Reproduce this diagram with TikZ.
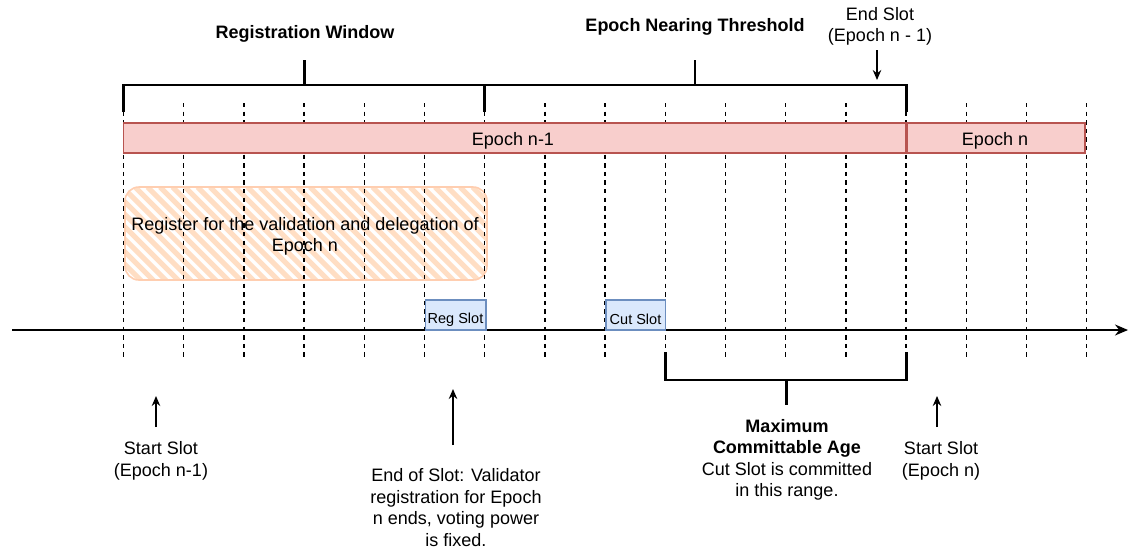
\documentclass[tikz,border=0pt]{standalone}
\usepackage{fontspec}
\setmainfont{Liberation Sans}
\usepackage{xcolor}
\definecolor{epochfill}{RGB}{248, 206, 204}
\definecolor{epochline}{RGB}{184, 84, 80}
\definecolor{slotfill}{RGB}{218, 232, 252}
\definecolor{slotline}{RGB}{108, 142, 191}
\definecolor{hatchfill}{RGB}{255, 222, 196}
\definecolor{hatchline}{RGB}{255, 206, 176}
\usetikzlibrary{arrows.meta}

\begin{document}
\begin{tikzpicture}[x=1pt, y=-1pt,
    txt/.style={font=\fontsize{18}{21.5}\selectfont, align=center, inner sep=0pt, yshift=-1.5pt},
    bold/.style={txt, font=\fontsize{18}{21.5}\selectfont\bfseries},
    gridline/.style={line width=1.4pt, dash pattern=on 4.3pt off 4.3pt},
    bracket/.style={line width=2.9pt},
    pointer/.style={line width=1.4pt, -{Stealth[length=10pt, width=8.5pt]}},
    epoch/.style={fill=epochfill, draw=epochline, line width=1.5pt},
    slotbox/.style={fill=slotfill, draw=slotline, line width=1.4pt}]
    \useasboundingbox (0,0) rectangle (1140,558);

    % Registration area (hatched)
    \begin{scope}
        \clip[rounded corners=14] (125,187) rectangle (487,280);
        \foreach \k in {0,...,40}
            \draw[hatchfill, line width=5pt] (10+12.5*\k,187) -- ++(100,100);
    \end{scope}
    \draw[hatchline, line width=1.6pt, rounded corners=14] (125,187) rectangle (487,280);

    % Slot boundaries
    \foreach \i in {0,...,16}
        \draw[gridline] (123.5+60.2*\i,103) -- (123.5+60.2*\i,360);

    \node[txt] (regtext) at (305,235) {Register for the validation and delegation of\\Epoch n};

    % Epoch bars
    \draw[epoch] (123.5,123) rectangle (906.5,153);
    \draw[epoch] (906.5,123) rectangle (1085,153);
    \draw[epochline, line width=3pt] (906.5,123) -- (906.5,153);
    \node[txt] (epochprev) at (513,139) {Epoch n-1};
    \node[txt] (epochnext) at (995,139) {Epoch n};

    % Top brackets
    \draw[bracket] (123.5,112) -- (123.5,85) -- (484.7,85) -- (484.7,112);
    \draw[bracket] (304.5,85) -- (304.5,60);
    \draw[bracket] (484.7,85) -- (906.1,85) -- (906.1,112);
    \draw[bracket] (695,85) -- (695,60);
    \node[bold] (regwindow) at (305,32) {Registration Window};
    \node[bold] (nearing) at (695,25) {Epoch Nearing Threshold};
    \node[txt] (endslot) at (880,25) {End Slot\\(Epoch n - 1)};
    \coordinate (endtail) at (877,50);
    \coordinate (endtip) at (877,80);
    \draw[pointer] (endtail) -- (endtip);

    % Timeline
    \coordinate (tstart) at (12,330);
    \coordinate (tend) at (1128,330);
    \draw[line width=1.5pt, -{Stealth[length=13pt, width=11pt]}] (tstart) -- (tend);
    \draw[slotbox] (425.5,300) rectangle (486,330);
    \node[txt, font=\fontsize{14.5}{17}\selectfont] (regslot) at (455.5,318) {Reg Slot};
    \draw[slotbox] (606,300) rectangle (665.3,330);
    \node[txt, font=\fontsize{14.5}{17}\selectfont] (cutslot) at (635.5,318) {Cut Slot};

    % Bottom bracket
    \draw[bracket] (665.3,352) -- (665.3,380) -- (906.1,380) -- (906.1,352);
    \draw[bracket] (786.5,380) -- (786.5,405);
    \node[txt] (maxage) at (787,458.5) {\textbf{Maximum}\\\textbf{Committable Age}\\Cut Slot is committed\\in this range.};

    % Notes below the timeline
    \node[txt] (startprev) at (161,459.5) {Start Slot\\(Epoch n-1)};
    \coordinate (sptail) at (156,427);
    \coordinate (sptip) at (156,396);
    \draw[pointer] (sptail) -- (sptip);

    \node[txt] (startnext) at (941,459.5) {Start Slot\\(Epoch n)};
    \coordinate (sntail) at (937,427);
    \coordinate (sntip) at (937,396);
    \draw[pointer] (sntail) -- (sntip);

    \node[txt] (regend) at (456,506) {End of Slot: Validator\\registration for Epoch\\n ends, voting power\\is fixed.};
    \coordinate (retail) at (453,445);
    \coordinate (retip) at (453,389);
    \draw[pointer] (retail) -- (retip);
\end{tikzpicture}
\end{document}
